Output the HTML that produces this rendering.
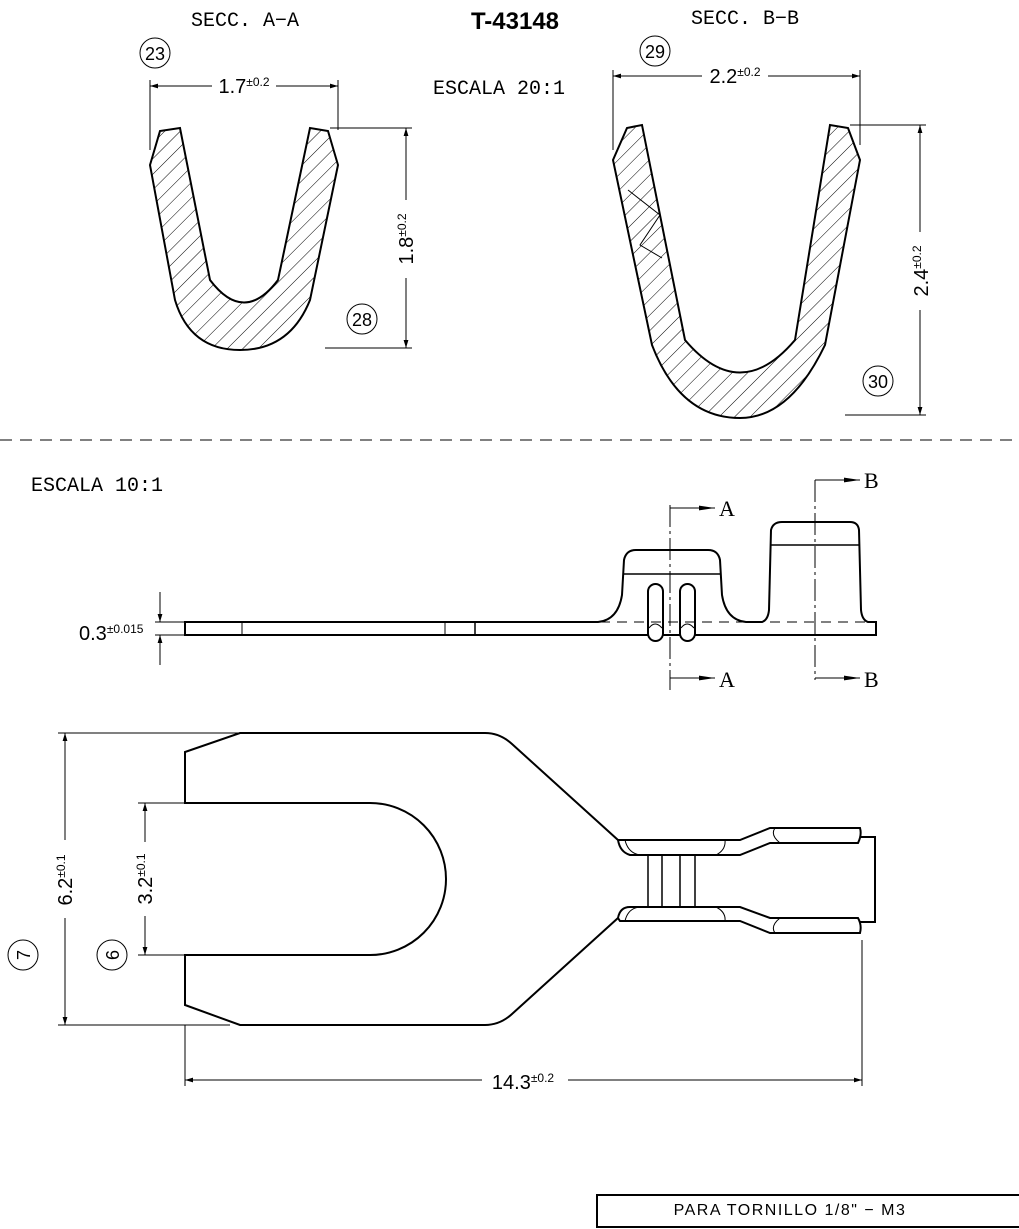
<!DOCTYPE html>
<html><head><meta charset="utf-8"><style>body{margin:0;background:#fff}svg{display:block}</style></head><body>
<svg width="1019" height="1229" viewBox="0 0 1019 1229" xmlns="http://www.w3.org/2000/svg" font-family="Liberation Sans, sans-serif">
<defs>
<pattern id="h" width="11" height="11" patternUnits="userSpaceOnUse" patternTransform="rotate(45)"><line x1="0" y1="0" x2="0" y2="11" stroke="#000" stroke-width="1"/></pattern>
<marker id="a" viewBox="0 0 10 10" refX="10" refY="5" markerWidth="10" markerHeight="8" orient="auto-start-reverse" markerUnits="userSpaceOnUse"><path d="M0,2 L10,5 L0,8 Z" fill="#000"/></marker>
<marker id="b" viewBox="0 0 20 10" refX="20" refY="5" markerWidth="22" markerHeight="8" orient="auto" markerUnits="userSpaceOnUse"><path d="M0,2 L20,5 L0,8 Z" fill="#000"/></marker>
</defs>
<g fill="none" stroke="#000" stroke-width="1">
<text x="515" y="29" font-size="24" font-weight="bold" text-anchor="middle" stroke="none" fill="#000">T-43148</text>
<g font-family="Liberation Mono, monospace" font-size="20" stroke="none" fill="#000">
<text x="245" y="26" text-anchor="middle">SECC. A−A</text>
<text x="745" y="24" text-anchor="middle">SECC. B−B</text>
<text x="499" y="94" text-anchor="middle">ESCALA 20:1</text>
<text x="97" y="491" text-anchor="middle">ESCALA 10:1</text>
</g>
<!-- Section A-A -->
<path d="M150,165 L160,131 L180,128 L210,280 Q244,325 278,280 L310,128 L328,131 L338,165 L310,300 Q290,350 240,350 Q190,350 175,300 Z" fill="url(#h)" stroke-width="2"/>
<line x1="150" y1="80" x2="150" y2="150"/><line x1="338" y1="80" x2="338" y2="130"/>
<line x1="150" y1="86" x2="338" y2="86" marker-start="url(#a)" marker-end="url(#a)"/>
<rect x="212" y="72" width="64" height="22" fill="#fff" stroke="none"/>
<text x="244" y="93" font-size="20" text-anchor="middle" stroke="none" fill="#000">1.7<tspan font-size="12" dy="-7">±0.2</tspan></text>
<circle cx="155" cy="53" r="15"/><text x="155" y="60" font-size="18" text-anchor="middle" stroke="none" fill="#000">23</text>
<line x1="330" y1="128" x2="412" y2="128"/><line x1="325" y1="348" x2="412" y2="348"/>
<line x1="406" y1="128" x2="406" y2="348" marker-start="url(#a)" marker-end="url(#a)"/>
<rect x="394" y="200" width="24" height="78" fill="#fff" stroke="none"/>
<text transform="translate(413,239) rotate(-90)" font-size="20" text-anchor="middle" stroke="none" fill="#000">1.8<tspan font-size="12" dy="-7">±0.2</tspan></text>
<circle cx="362" cy="319" r="15"/><text x="362" y="326" font-size="18" text-anchor="middle" stroke="none" fill="#000">28</text>
<!-- Section B-B -->
<path d="M613,160 L627,128 L642,125 L685,340 Q740,405 795,340 L830,125 L848,128 L860,160 L825,345 Q790,418 740,418 Q680,418 652,345 Z" fill="url(#h)" stroke-width="2"/>
<path d="M628,190 L660,215 L640,245 L662,258" stroke-width="1"/>
<line x1="613" y1="70" x2="613" y2="150"/><line x1="860" y1="70" x2="860" y2="145"/>
<line x1="613" y1="76" x2="860" y2="76" marker-start="url(#a)" marker-end="url(#a)"/>
<rect x="702" y="62" width="66" height="22" fill="#fff" stroke="none"/>
<text x="735" y="83" font-size="20" text-anchor="middle" stroke="none" fill="#000">2.2<tspan font-size="12" dy="-7">±0.2</tspan></text>
<circle cx="655" cy="51" r="15"/><text x="655" y="58" font-size="18" text-anchor="middle" stroke="none" fill="#000">29</text>
<line x1="850" y1="125" x2="926" y2="125"/><line x1="845" y1="415" x2="926" y2="415"/>
<line x1="920" y1="125" x2="920" y2="415" marker-start="url(#a)" marker-end="url(#a)"/>
<rect x="908" y="232" width="24" height="78" fill="#fff" stroke="none"/>
<text transform="translate(928,271) rotate(-90)" font-size="20" text-anchor="middle" stroke="none" fill="#000">2.4<tspan font-size="12" dy="-7">±0.2</tspan></text>
<circle cx="878" cy="381" r="15"/><text x="878" y="388" font-size="18" text-anchor="middle" stroke="none" fill="#000">30</text>
<line x1="0" y1="440" x2="1019" y2="440" stroke-dasharray="12,8"/>
<!-- Side view -->
<g stroke-width="2">
<path d="M185,622 L598,622 Q618,620 622,595 L624,560 Q626,550 636,550 L708,550 Q718,550 720,560 L722,595 Q726,620 746,622 L762,622 Q768,620 769,610 L771,530 Q773,522 782,522 L850,522 Q858,522 859,530 L861,610 Q862,620 868,622 L876,622 L876,635 L185,635 Z"/>
<line x1="242" y1="622" x2="242" y2="635" stroke-width="1"/>
<line x1="445" y1="622" x2="445" y2="635" stroke-width="1"/>
<line x1="475" y1="622" x2="475" y2="635" stroke-width="1.5"/>
<line x1="624" y1="574" x2="721" y2="574" stroke-width="1.5"/>
<line x1="771" y1="545" x2="860" y2="545" stroke-width="1.5"/>
<rect x="648" y="584" width="15" height="57" rx="7.5" fill="#fff"/>
<rect x="680" y="584" width="15" height="57" rx="7.5" fill="#fff"/>
</g>
<line x1="600" y1="622" x2="870" y2="622" stroke-dasharray="10,7"/>
<path d="M649,628 Q655,620 662,628 M681,628 Q687,620 694,628"/>
<line x1="670" y1="505" x2="670" y2="690" stroke-dasharray="22,4,3,4"/>
<path d="M670,508 L715,508" marker-end="url(#b)"/><path d="M670,678 L715,678" marker-end="url(#b)"/>
<line x1="815" y1="480" x2="815" y2="680" stroke-dasharray="22,4,3,4"/>
<path d="M815,480 L860,480" marker-end="url(#b)"/><path d="M815,678 L860,678" marker-end="url(#b)"/>
<g font-family="Liberation Serif, serif" font-size="22" stroke="none" fill="#000">
<text x="719" y="516">A</text><text x="719" y="687">A</text>
<text x="864" y="488">B</text><text x="864" y="687">B</text>
</g>
<line x1="155" y1="622" x2="185" y2="622"/><line x1="155" y1="635" x2="185" y2="635"/>
<line x1="160" y1="592" x2="160" y2="622" marker-end="url(#a)"/>
<line x1="160" y1="665" x2="160" y2="635" marker-end="url(#a)"/>
<text x="79" y="640" font-size="20" stroke="none" fill="#000">0.3<tspan font-size="12" dy="-7">±0.015</tspan></text>
<!-- Top view -->
<g stroke-width="2">
<path d="M618,840 L512,744 Q500,733 485,733 L240,733 L185,752 L185,803 L370,803 A76,76 0 0 1 370,955 L185,955 L185,1005 L240,1025 L485,1025 Q500,1025 512,1014 L618,918"/>
<path d="M618,840 L740,840 L770,828 L860,828 Q862,835 858,843 L770,843 L740,855 L630,855 Q620,852 618,840 Z"/>
<path d="M618,918 Q620,907 630,907 L740,907 L770,918 L858,918 Q862,925 860,933 L770,933 L740,921 L620,921 Z"/>
<path d="M860,837 L875,837 L875,922 L860,922"/>
</g>
<path d="M625,840 Q628,853 640,855 M716,855 Q726,850 725,840 M625,921 Q628,908 640,907 M716,907 Q726,912 725,921 M775,828 Q770,835 780,843 M775,933 Q770,926 780,918"/>
<path d="M648,855 V907 M662,855 V907 M680,855 V907 M695,855 V907" stroke-width="1.5"/>
<line x1="58" y1="733" x2="265" y2="733"/><line x1="58" y1="1025" x2="230" y2="1025"/>
<line x1="65" y1="733" x2="65" y2="1025" marker-start="url(#a)" marker-end="url(#a)"/>
<rect x="53" y="840" width="24" height="78" fill="#fff" stroke="none"/>
<text transform="translate(72,880) rotate(-90)" font-size="20" text-anchor="middle" stroke="none" fill="#000">6.2<tspan font-size="12" dy="-7">±0.1</tspan></text>
<circle cx="23" cy="955" r="15"/><text transform="translate(30,955) rotate(-90)" font-size="18" text-anchor="middle" stroke="none" fill="#000">7</text>
<line x1="138" y1="803" x2="185" y2="803"/><line x1="138" y1="955" x2="185" y2="955"/>
<line x1="145" y1="803" x2="145" y2="955" marker-start="url(#a)" marker-end="url(#a)"/>
<rect x="133" y="842" width="24" height="74" fill="#fff" stroke="none"/>
<text transform="translate(152,879) rotate(-90)" font-size="20" text-anchor="middle" stroke="none" fill="#000">3.2<tspan font-size="12" dy="-7">±0.1</tspan></text>
<circle cx="112" cy="955" r="15"/><text transform="translate(119,955) rotate(-90)" font-size="18" text-anchor="middle" stroke="none" fill="#000">6</text>
<line x1="185" y1="1025" x2="185" y2="1086"/><line x1="862" y1="940" x2="862" y2="1086"/>
<line x1="185" y1="1080" x2="862" y2="1080" marker-start="url(#a)" marker-end="url(#a)"/>
<rect x="482" y="1066" width="86" height="24" fill="#fff" stroke="none"/>
<text x="523" y="1089" font-size="20" text-anchor="middle" stroke="none" fill="#000">14.3<tspan font-size="12" dy="-7">±0.2</tspan></text>
<rect x="597" y="1195" width="430" height="32" stroke-width="2"/>
<text x="790" y="1215" font-size="16" text-anchor="middle" stroke="none" fill="#000" letter-spacing="1.5">PARA TORNILLO 1/8"  −  M3</text>
</g>
</svg>
</body></html>
